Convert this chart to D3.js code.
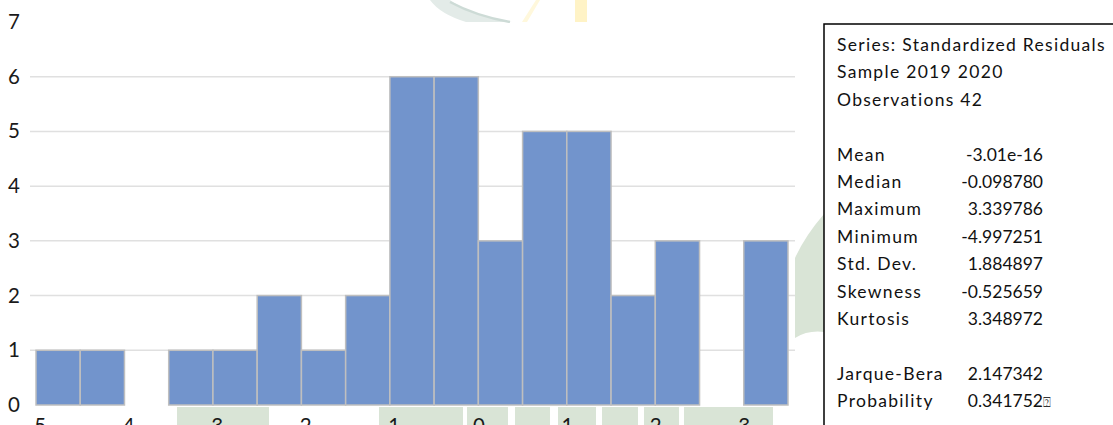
<!DOCTYPE html>
<html lang="en">
<head>
    <meta charset="UTF-8">
    <title>Residuals histogram</title>
    <style>
        body { margin: 0; background: #fff; }
        svg { display: block; }
    </style>
</head>
<body>
<script src='https://d3js.org/d3.v7.min.js' type='text/javascript'></script>
<script>
    // bins of width 0.5 from -5 to 3.5
    var binStart = [-5, -4.5, -4, -3.5, -3, -2.5, -2, -1.5, -1, -0.5, 0, 0.5, 1, 1.5, 2, 2.5, 3];
    var counts = [1, 1, 0, 1, 1, 2, 1, 2, 6, 6, 3, 5, 5, 2, 3, 0, 3];
    var binWidth = 0.5;
    var xTicks = [-5, -4, -3, -2, -1, 0, 1, 2, 3];
    var yTicks = [0, 1, 2, 3, 4, 5, 6, 7];
    var statLabels = ["Series: Standardized Residuals", "Sample 2019 2020", "Observations 42", "",
        "Mean", "Median", "Maximum", "Minimum", "Std. Dev.", "Skewness", "Kurtosis", "",
        "Jarque-Bera", "Probability"];
    var statValues = ["", "", "", "",
        "-3.01e-16", "-0.098780", "3.339786", "-4.997251", "1.884897", "-0.525659", "3.348972", "",
        "2.147342", "0.341752"];

    const W = 1113, H = 425;
    const svg = d3.select("body").append("svg")
        .attr("width", W)
        .attr("height", H);

    // faint watermark behind the chart
    const wm = svg.append("g");
    wm.append("path")
        .attr("d", "M430,0 L450,0 Q468,14 512,22 L466,22 Q440,14 430,0 Z")
        .attr("fill", "#e3ebe8");
    wm.append("path")
        .attr("d", "M450,2 Q476,16 510,22")
        .attr("fill", "none").attr("stroke", "#cddbd6").attr("stroke-width", 2.5);
    wm.append("path")
        .attr("d", "M522,22 L536,0 L540,0 L527,22 Z")
        .attr("fill", "#fff8dc");
    wm.append("rect")
        .attr("x", 575).attr("y", 0).attr("width", 12).attr("height", 22)
        .attr("fill", "#fff3c6");
    wm.append("path")
        .attr("d", "M795,258 Q805,236 824,214 L824,332 Q808,330 795,338 Z")
        .attr("fill", "#d9e4d6");
    var wmBlocks = [[177, 269], [379, 463], [467, 508], [515, 550], [558, 596], [602, 638], [644, 679], [684, 773]];
    wm.selectAll("rect.blk").data(wmBlocks).enter().append("rect")
        .attr("class", "blk")
        .attr("x", d => d[0]).attr("y", 407)
        .attr("width", d => d[1] - d[0]).attr("height", H - 407)
        .attr("fill", "#d9e4d6");

    // white plot area covering the watermark
    svg.append("rect")
        .attr("x", 0).attr("y", 23).attr("width", 795).attr("height", 383)
        .attr("fill", "#fff");

    const x = d3.scaleLinear().domain([-5, 3.5]).range([36, 788]);
    const y = d3.scaleLinear().domain([0, 7]).range([405, 22]);

    // gridlines
    svg.append("g").selectAll("line")
        .data(yTicks.filter(d => d > 0 && d < 7))
        .enter().append("line")
        .attr("x1", 30).attr("x2", 795)
        .attr("y1", d => y(d)).attr("y2", d => y(d))
        .attr("stroke", "#e0e0e0")
        .attr("stroke-width", 1.5);

    // bars
    svg.append("g").selectAll("rect")
        .data(binStart.map((s, i) => ({ s: s, n: counts[i] })).filter(d => d.n > 0))
        .enter().append("rect")
        .attr("x", d => x(d.s))
        .attr("y", d => y(d.n))
        .attr("width", d => x(d.s + binWidth) - x(d.s))
        .attr("height", d => y(0) - y(d.n))
        .attr("fill", "#7294cc")
        .attr("stroke", "#bfbfbf")
        .attr("stroke-width", 1.5);

    // axes
    const yAxis = svg.append("g")
        .attr("transform", "translate(30,0)")
        .call(d3.axisLeft(y).tickValues(yTicks).tickSize(0).tickPadding(10).tickFormat(d3.format("d")));
    const xAxis = svg.append("g")
        .attr("transform", "translate(0,405)")
        .call(d3.axisBottom(x).tickValues(xTicks).tickSize(0).tickPadding(13).tickFormat(d => String(d)));
    [yAxis, xAxis].forEach(a => {
        a.select(".domain").remove();
        a.selectAll("text")
            .attr("font-family", "Lato, 'Open Sans', sans-serif")
            .attr("font-size", 20.5)
            .attr("fill", "#1a1a1a");
    });

    // statistics box
    const box = svg.append("g");
    box.append("rect")
        .attr("x", 824).attr("y", 24)
        .attr("width", 300).attr("height", 410)
        .attr("fill", "#fff")
        .attr("stroke", "#000")
        .attr("stroke-width", 1.5);
    const rows = box.selectAll("g.row")
        .data(statLabels.map((l, i) => ({ l: l, v: statValues[i], i: i })))
        .enter().append("g")
        .attr("class", "row")
        .attr("transform", d => "translate(0," + (51 + d.i * 27.4) + ")");
    rows.append("text")
        .attr("x", 837)
        .attr("font-family", "Lato, 'Open Sans', sans-serif")
        .attr("font-size", 17.5)
        .attr("letter-spacing", 1.3)
        .attr("fill", "#111")
        .text(d => d.l);
    rows.append("text")
        .attr("x", 1043)
        .attr("text-anchor", "end")
        .attr("font-family", "Lato, 'Open Sans', sans-serif")
        .attr("font-size", 17.5)
        .attr("fill", "#111")
        .text(d => d.v);
    // unrendered glyph after the probability value
    const last = statLabels.length - 1;
    box.append("text")
        .attr("x", 1043).attr("y", 51 + last * 27.4)
        .attr("font-family", "'DejaVu Sans', sans-serif")
        .attr("font-size", 13)
        .attr("fill", "#333")
        .text("\u2370");
</script>
</body>
</html>
